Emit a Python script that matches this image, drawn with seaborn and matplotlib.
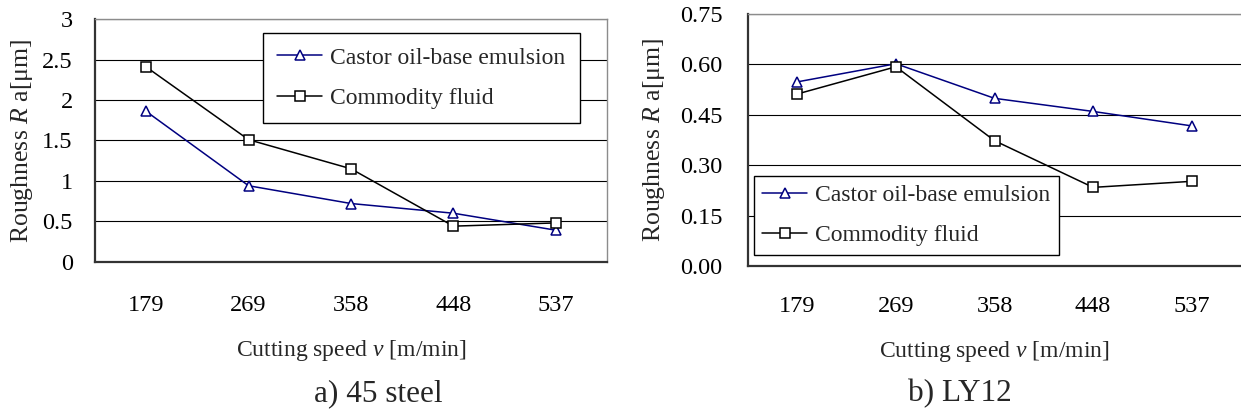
import pandas as pd
import matplotlib.pyplot as plt
import matplotlib.ticker as mticker
import seaborn as sns

# --- Data ---
SPEEDS = ['179', '269', '358', '448', '537']
STEEL_CASTOR = [1.86, 0.94, 0.72, 0.60, 0.39]
STEEL_COMMODITY = [2.41, 1.51, 1.15, 0.44, 0.48]
LY12_CASTOR = [0.548, 0.602, 0.499, 0.460, 0.417]
LY12_COMMODITY = [0.512, 0.593, 0.373, 0.234, 0.252]

CASTOR_LABEL = 'Castor oil-base emulsion'
COMMODITY_LABEL = 'Commodity fluid'

# --- Styling ---
sns.set_style("white")
plt.rcParams['font.family'] = ['Liberation Serif', 'DejaVu Serif']
plt.rcParams['mathtext.fontset'] = 'custom'
plt.rcParams['mathtext.rm'] = 'Liberation Serif'
plt.rcParams['mathtext.it'] = 'Liberation Serif:italic'

FS = 17
TICK_FS = 17.5
NAVY = '#000080'
W, H = 1241, 416


def draw_panel(ax, castor, commodity, ymax, ystep, fmt, ypad, xpad, legend_pos, legend_pad):
    df = pd.DataFrame({'speed': SPEEDS, 'castor': castor, 'commodity': commodity})
    sns.lineplot(data=df, x='speed', y='castor', ax=ax, color=NAVY, lw=1.1,
                 marker='^', markersize=7.5, markerfacecolor='white',
                 markeredgecolor=NAVY, markeredgewidth=1.1, label=CASTOR_LABEL)
    sns.lineplot(data=df, x='speed', y='commodity', ax=ax, color='black', lw=1.1,
                 marker='s', markersize=6.8, markerfacecolor='white',
                 markeredgecolor='black', markeredgewidth=1.1, label=COMMODITY_LABEL)

    ax.set_xlim(-0.5, 4.5)
    ax.set_ylim(0, ymax)
    ax.yaxis.set_major_locator(mticker.MultipleLocator(ystep))
    ax.yaxis.set_major_formatter(fmt)
    ax.set_xticks(range(len(SPEEDS)))
    ax.set_xticklabels(SPEEDS)
    ax.set_xticks([0.5, 1.5, 2.5, 3.5], minor=True)

    ax.yaxis.grid(True, color='black', lw=0.8)
    ax.xaxis.grid(False)
    ax.tick_params(axis='y', length=0, pad=ypad, labelsize=TICK_FS, colors='black')
    ax.tick_params(axis='x', which='both', direction='in', length=5, width=0.9,
                   pad=xpad, labelsize=TICK_FS, colors='black')

    for side in ['left', 'bottom']:
        ax.spines[side].set_color('#333333')
        ax.spines[side].set_linewidth(1.6)
    for side in ['top', 'right']:
        ax.spines[side].set_color('#8c8c8c')
        ax.spines[side].set_linewidth(1.0)

    ax.set_xlabel('Cutting speed $v$ [m/min]', fontsize=FS, labelpad=16)
    ax.set_ylabel('Roughness $R$ a[\u03bcm]', fontsize=18.5)

    leg = ax.legend(loc='upper left', bbox_to_anchor=legend_pos, borderaxespad=0,
                    fontsize=FS, frameon=True, fancybox=False, framealpha=1,
                    edgecolor='black', borderpad=legend_pad, handlelength=1.9,
                    handletextpad=0.35, labelspacing=0.8)
    leg.get_frame().set_linewidth(1.0)
    return ax


fig = plt.figure(figsize=(W / 100, H / 100), dpi=100)

ax1 = fig.add_axes([95 / W, (H - 261.7) / H, 512 / W, 242.4 / H])
draw_panel(ax1, STEEL_CASTOR, STEEL_COMMODITY, 3, 0.5,
           mticker.FuncFormatter(lambda v, p: f'{v:g}'), 16, 24,
           (0.328, 0.9435), 0.6)
ax1.yaxis.set_label_coords(-0.117, 0.5)

ax2 = fig.add_axes([748 / W, (H - 266) / H, 493 / W, 252 / H])
draw_panel(ax2, LY12_CASTOR, LY12_COMMODITY, 0.75, 0.15,
           mticker.FormatStrFormatter('%.2f'), 18.5, 21.4,
           (0.0122, 0.357), 0.35)
ax2.spines['right'].set_visible(False)
ax2.yaxis.set_label_coords(-0.164, 0.5)

fig.text(378 / W, 1 - 394 / H, 'a) 45 steel', ha='center', va='center', fontsize=22.5)
fig.text(960 / W, 1 - 394 / H, 'b) LY12', ha='center', va='center', fontsize=22.5)

fig.savefig('out.png', dpi=100)
